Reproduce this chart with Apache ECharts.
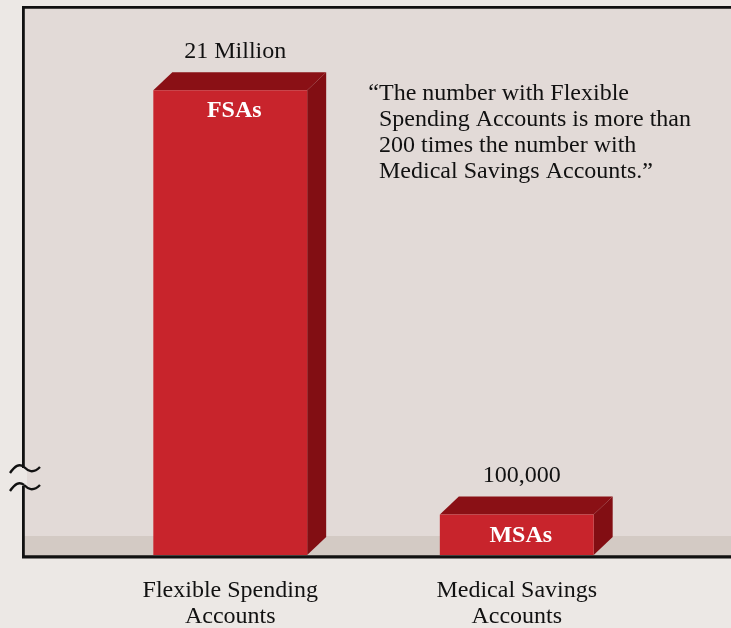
<!DOCTYPE html>
<html>
<head>
<meta charset="utf-8">
<title>FSAs vs MSAs</title>
<script src="https://cdn.jsdelivr.net/npm/echarts@6/dist/echarts.min.js"></script>
<style>
  html, body { margin: 0; padding: 0; background: #ECE8E5; }
  #chart { width: 731px; height: 628px; }
</style>
</head>
<body>
<div id="chart"></div>
<script>
// Account types shown along the bottom
const categories = ['Flexible Spending\nAccounts', 'Medical Savings\nAccounts'];
// Short names printed on each bar
const shortNames = ['FSAs', 'MSAs'];
// Number of accounts
const accountCounts = [21000000, 100000];
// Quotation printed in the upper right
const quoteLines = [
  'The number with Flexible',
  'Spending Accounts is more than',
  '200 times the number with',
  'Medical Savings Accounts.\u201D'
];

const AXIS_MIN = 60000;
const AXIS_MAX = 60000000;
const SERIF = '"Liberation Serif", "Times New Roman", serif';

function formatCount(v) {
  if (v >= 1000000) return (v / 1000000) + ' Million';
  return v.toLocaleString('en-US');
}

// one wavy stroke of the axis-break mark, as two cubic segments
function breakWave(y) {
  const st = { stroke: '#111', lineWidth: 2.4, fill: 'none' };
  return [
    { type: 'bezierCurve', z: 51, shape: { x1: 10, y1: y + 6, cpx1: 15, cpy1: y - 1, cpx2: 19, cpy2: y - 4, x2: 24, y2: y }, style: st },
    { type: 'bezierCurve', z: 51, shape: { x1: 24, y1: y, cpx1: 28, cpy1: y + 4, cpx2: 33, cpy2: y + 7, x2: 40, y2: y }, style: st }
  ];
}

const chart = echarts.init(document.getElementById('chart'));

const DEPTH_X = 19, DEPTH_Y = 18;

chart.setOption({
  backgroundColor: '#ECE8E5',
  animation: false,
  grid: { left: 87, right: 71, top: 7, bottom: 73, outerBoundsMode: 'none', containLabel: false },
  xAxis: {
    type: 'category',
    data: categories,
    axisLine: { show: false },
    axisTick: { show: false },
    axisLabel: {
      margin: 23,
      fontFamily: SERIF,
      fontSize: 24,
      lineHeight: 26,
      color: '#111'
    }
  },
  yAxis: {
    type: 'log',
    logBase: 10,
    min: AXIS_MIN,
    max: AXIS_MAX,
    show: false,
    splitLine: { show: false }
  },
  graphic: [
    // plot panel
    { type: 'rect', z: -20, shape: { x: 23, y: 7, width: 730, height: 549 }, style: { fill: '#E2DAD7' } },
    // floor strip
    { type: 'rect', z: -19, shape: { x: 23, y: 536, width: 730, height: 20 }, style: { fill: '#D3CAC4' } },
    // frame
    { type: 'line', z: 50, shape: { x1: 22, y1: 7.3, x2: 760, y2: 7.3 }, style: { stroke: '#111', lineWidth: 2.8 } },
    { type: 'line', z: 50, shape: { x1: 23.4, y1: 6, x2: 23.4, y2: 468 }, style: { stroke: '#111', lineWidth: 2.8 } },
    { type: 'line', z: 50, shape: { x1: 23.4, y1: 486, x2: 23.4, y2: 558 }, style: { stroke: '#111', lineWidth: 2.8 } },
    { type: 'rect', z: 49, shape: { x: 22, y: 469, width: 5, height: 16 }, style: { fill: '#ECE8E5' } },
    { type: 'line', z: 50, shape: { x1: 22, y1: 556.8, x2: 760, y2: 556.8 }, style: { stroke: '#111', lineWidth: 3.2 } },
    // axis break marks
    ...breakWave(467),
    ...breakWave(485),
    // quotation
    { type: 'text', z: 10, x: 379, y: 81, style: { text: '\u201C', fontFamily: SERIF, fontSize: 24, lineHeight: 26, fill: '#111', align: 'right', verticalAlign: 'top' } },
    { type: 'text', z: 10, x: 379, y: 81, style: { text: quoteLines.join('\n'), fontFamily: SERIF, fontSize: 24, lineHeight: 26, fill: '#111', align: 'left', verticalAlign: 'top' } }
  ],
  series: [{
    type: 'custom',
    data: accountCounts.map((v, i) => [i, v]),
    renderItem: function (params, api) {
      const idx = api.value(0);
      const val = api.value(1);
      const topPt = api.coord([idx, val]);
      const basePt = api.coord([idx, AXIS_MIN]);
      const band = api.size([1, 0])[0];
      const w = band * 0.537;
      const left = topPt[0] - w / 2;
      const right = topPt[0] + w / 2;
      const top = topPt[1];
      const bottom = basePt[1];
      return {
        type: 'group',
        children: [
          { type: 'polygon', shape: { points: [[left, top], [left + DEPTH_X, top - DEPTH_Y], [right + DEPTH_X, top - DEPTH_Y], [right, top]] }, style: { fill: '#8A1015' } },
          { type: 'polygon', shape: { points: [[right, top], [right + DEPTH_X, top - DEPTH_Y], [right + DEPTH_X, bottom - DEPTH_Y], [right, bottom]] }, style: { fill: '#820E13' } },
          { type: 'rect', shape: { x: left, y: top, width: w, height: bottom - top }, style: { fill: '#C8242C' } },
          { type: 'text', x: topPt[0] + 4, y: top + 21, style: { text: shortNames[idx], fontFamily: SERIF, fontWeight: 'bold', fontSize: 24, fill: '#fff', align: 'center', verticalAlign: 'middle' } },
          { type: 'text', x: topPt[0] + 5, y: top - DEPTH_Y - 21, style: { text: formatCount(val), fontFamily: SERIF, fontSize: 24, fill: '#111', align: 'center', verticalAlign: 'middle' } }
        ]
      };
    }
  }]
});
</script>
</body>
</html>
